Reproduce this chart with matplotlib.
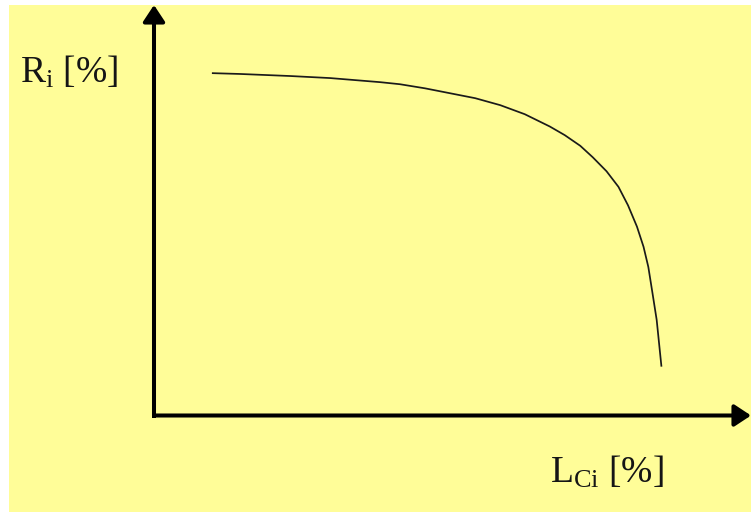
import matplotlib
matplotlib.use("Agg")
import matplotlib.pyplot as plt
from matplotlib.patches import Rectangle

plt.rcParams['font.family'] = ['Liberation Serif', 'DejaVu Serif']
plt.rcParams['mathtext.fontset'] = 'custom'
plt.rcParams['mathtext.rm'] = 'Liberation Serif'
plt.rcParams['mathtext.it'] = 'Liberation Serif:italic'

# Data (schematic, arbitrary 0-100 scale)
lci = [9.7, 14.4, 22.8, 29.5, 37.9, 41.2, 45.4, 49.6, 53.8, 58.0, 62.1, 66.3,
       68.8, 71.4, 73.5, 75.8, 77.8, 79.4, 80.9, 82.0, 82.8, 83.5, 84.2, 84.6,
       85.0]
ri = [83.4, 83.2, 82.7, 82.2, 81.2, 80.7, 79.7, 78.5, 77.3, 75.6, 73.4, 70.4,
      68.3, 65.7, 62.9, 59.5, 55.7, 51.2, 46.0, 41.1, 36.2, 29.8, 23.3, 17.6,
      11.9]
ylabel = r"R$_{\mathrm{i}}$ [%]"
xlabel = r"L$_{\mathrm{Ci}}$ [%]"

W, H = 751, 512
fig = plt.figure(figsize=(W / 100, H / 100), dpi=100, facecolor='white')
bg = '#FFFD98'
fig.patches.append(Rectangle((9 / W, 0), 1 - 9 / W, 1 - 5 / H,
                             transform=fig.transFigure, facecolor=bg,
                             edgecolor='none', zorder=-10))

x0, y0 = 154, 415.5
ax = fig.add_axes([x0 / W, 1 - y0 / H, (W - x0) / W, (y0 - 5) / H])
ax.set_zorder(5)
ax.set_facecolor('none')
for s in ax.spines.values():
    s.set_visible(False)
ax.set_xticks([])
ax.set_yticks([])
ax.set_xlim(0, 100)
ax.set_ylim(0, 100)

lw = 2.9
astyle = '-|>,head_length=0.5,head_width=0.33'
for tip in [(0, 1.0), (1.0, 0)]:
    ax.annotate('', xy=tip, xytext=(0, 0), xycoords='axes fraction',
                arrowprops=dict(arrowstyle=astyle, lw=lw, color='black',
                                mutation_scale=20, shrinkA=0, shrinkB=0),
                annotation_clip=False)
ax.plot([0], [0], marker='s', ms=lw, mew=0, color='black',
        transform=ax.transAxes, clip_on=False)

ax.plot(lci, ri, color='#1a1a1a', lw=1.25, solid_capstyle='butt',
        solid_joinstyle='round')

fig.text(20 / W, 1 - 83 / H, ylabel, fontsize=27, color='#151515',
         ha='left', va='baseline', zorder=6)
fig.text(550 / W, 1 - 483 / H, xlabel, fontsize=27, color='#151515',
         ha='left', va='baseline', zorder=6)

fig.savefig('out.png', dpi=100, facecolor='white')
